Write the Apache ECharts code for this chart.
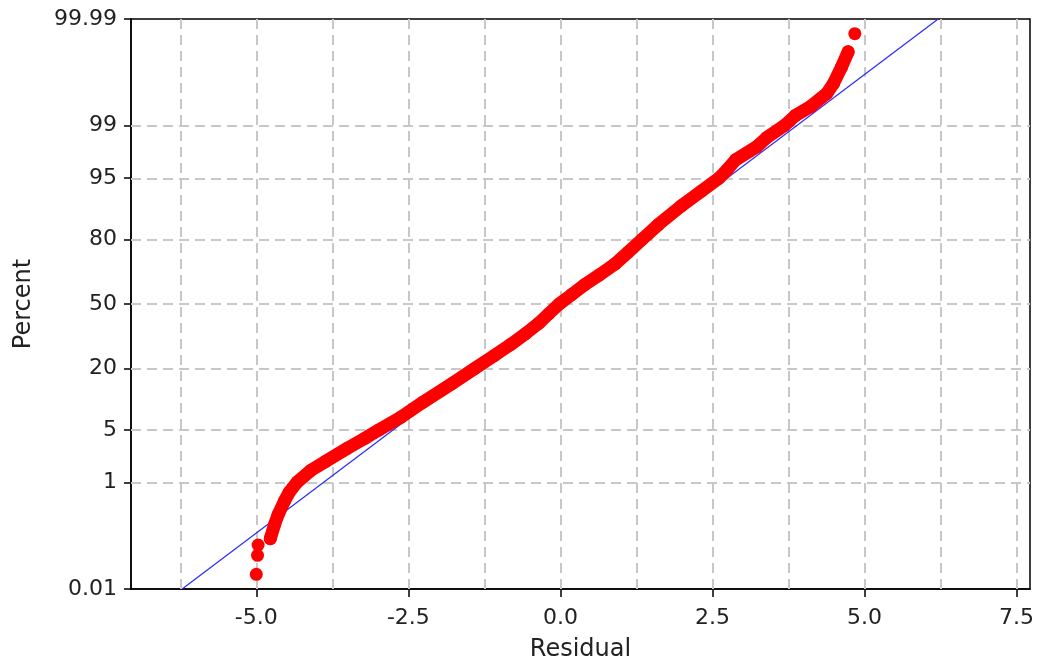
<!DOCTYPE html>
<html>
<head>
<meta charset="utf-8">
<title>Normal probability plot of residuals</title>
<script src="https://cdn.jsdelivr.net/npm/echarts@6/dist/echarts.min.js"></script>
<style>
  html, body { margin: 0; padding: 0; background: #fff; }
  #main { width: 1039px; height: 664px; }
</style>
</head>
<body>
<div id="main"></div>
<script>
// axis ticks
var xTicks = [-5, -2.5, 0, 2.5, 5, 7.5];
var xGrid = [-6.25, -5, -3.75, -2.5, -1.25, 0, 1.25, 2.5, 3.75, 5, 6.25, 7.5];
var yTickPct = [0.01, 1, 5, 20, 50, 80, 95, 99, 99.99];
var yTickLabels = ['0.01', '1', '5', '20', '50', '80', '95', '99', '99.99'];
var yGridPct = [1, 5, 20, 50, 80, 95, 99];

// residuals (percent -> residual)
var lowTailPct = [0.021, 0.052, 0.083];
var lowTailRes = [-5.00, -4.98, -4.97];
var curvePct = [0.11, 0.2, 0.3, 0.5, 0.7, 1, 1.5, 2, 3, 4, 5, 7, 10, 15, 20, 25, 30, 35, 40, 45,
  50, 55, 60, 65, 70, 75, 80, 85, 90, 93, 95, 96, 97, 98, 98.5, 99, 99.3, 99.5, 99.7, 99.8, 99.9, 99.95];
var curveRes = [-4.77, -4.70, -4.64, -4.54, -4.46, -4.33, -4.10, -3.86, -3.50, -3.21, -2.99, -2.62, -2.26, -1.78, -1.41, -1.09, -0.81, -0.57, -0.36, -0.19,
  -0.02, 0.19, 0.40, 0.65, 0.90, 1.11, 1.34, 1.61, 1.99, 2.32, 2.61, 2.74, 2.88, 3.23, 3.39, 3.68, 3.86, 4.11, 4.38, 4.49, 4.62, 4.73];
var highTailPct = [99.979];
var highTailRes = [4.84];

// fitted normal line
var fitPct = [0.01, 99.99];
var fitRes = [-6.22, 6.21];

// inverse normal cdf (Acklam), percent -> probability scale
function probit(pct) {
  var p = pct / 100;
  var a = [-3.969683028665376e+01, 2.209460984245205e+02, -2.759285104469687e+02, 1.383577518672690e+02, -3.066479806614716e+01, 2.506628277459239e+00];
  var b = [-5.447609879822406e+01, 1.615858368580409e+02, -1.556989798598866e+02, 6.680131188771972e+01, -1.328068155288572e+01];
  var c = [-7.784894002430293e-03, -3.223964580411365e-01, -2.400758277161838e+00, -2.549732539343734e+00, 4.374664141464968e+00, 2.938163982698783e+00];
  var d = [7.784695709041462e-03, 3.224671290700398e-01, 2.445134137142996e+00, 3.754408661907416e+00];
  var plow = 0.02425, q, r;
  if (p < plow) {
    q = Math.sqrt(-2 * Math.log(p));
    return (((((c[0] * q + c[1]) * q + c[2]) * q + c[3]) * q + c[4]) * q + c[5]) / ((((d[0] * q + d[1]) * q + d[2]) * q + d[3]) * q + 1);
  }
  if (p > 1 - plow) {
    q = Math.sqrt(-2 * Math.log(1 - p));
    return -(((((c[0] * q + c[1]) * q + c[2]) * q + c[3]) * q + c[4]) * q + c[5]) / ((((d[0] * q + d[1]) * q + d[2]) * q + d[3]) * q + 1);
  }
  q = p - 0.5;
  r = q * q;
  return (((((a[0] * r + a[1]) * r + a[2]) * r + a[3]) * r + a[4]) * r + a[5]) * q / (((((b[0] * r + b[1]) * r + b[2]) * r + b[3]) * r + b[4]) * r + 1);
}

function pairs(res, pct) {
  return res.map(function (v, i) { return [v, probit(pct[i])]; });
}

var yTickZ = yTickPct.map(probit);
var font = 'DejaVu Sans';
var textColor = '#222';

var myChart = echarts.init(document.getElementById('main'));

var gridLines = xGrid.map(function (v) { return { xAxis: v }; })
  .concat(yGridPct.map(function (p) { return { yAxis: probit(p) }; }));

var option = {
  backgroundColor: '#fff',
  animation: false,
  grid: {
    left: 131, right: 9, top: 19, bottom: 75,
    show: true, borderColor: '#000', borderWidth: 1.5,
    outerBoundsMode: 'none'
  },
  xAxis: {
    type: 'value',
    min: -7.06,
    max: 7.72,
    name: 'Residual',
    nameLocation: 'middle',
    nameGap: 49,
    nameTextStyle: { fontFamily: font, fontSize: 24, color: textColor },
    axisLine: { onZero: false, lineStyle: { color: '#000', width: 1.5 } },
    axisTick: { customValues: xTicks, length: 8, lineStyle: { color: '#000', width: 1.5 } },
    axisLabel: {
      customValues: xTicks,
      margin: 18,
      fontFamily: font, fontSize: 22, color: textColor,
      formatter: function (v) { return v.toFixed(1); }
    },
    splitLine: { show: false }
  },
  yAxis: {
    type: 'value',
    min: probit(0.01),
    max: probit(99.99),
    name: 'Percent',
    nameLocation: 'middle',
    nameGap: 95,
    nameTextStyle: { fontFamily: font, fontSize: 24, color: textColor },
    axisLine: { onZero: false, lineStyle: { color: '#000', width: 1.5 } },
    axisTick: { customValues: yTickZ, length: 7, lineStyle: { color: '#000', width: 1.5 } },
    axisLabel: {
      customValues: yTickZ,
      margin: 14,
      fontFamily: font, fontSize: 22, color: textColor,
      formatter: function (v) {
        for (var i = 0; i < yTickZ.length; i++) {
          if (Math.abs(yTickZ[i] - v) < 1e-3) return yTickLabels[i];
        }
        return '';
      }
    },
    splitLine: { show: false }
  },
  series: [
    {
      // dashed grid, kept under the data
      type: 'scatter',
      data: [],
      silent: true,
      z: 1,
      markLine: {
        z: 1,
        silent: true,
        symbol: ['none', 'none'],
        label: { show: false },
        animation: false,
        lineStyle: { color: '#c8c8c8', width: 2, type: [10, 6] },
        emphasis: { disabled: true },
        data: gridLines
      }
    },
    {
      name: 'fit',
      type: 'line',
      data: pairs(fitRes, fitPct),
      symbol: 'none',
      z: 6,
      lineStyle: { color: '#2a2aff', width: 1.2 }
    },
    {
      name: 'residuals',
      type: 'line',
      data: pairs(curveRes, curvePct),
      symbol: 'circle',
      symbolSize: 13,
      showSymbol: true,
      z: 7,
      itemStyle: { color: '#ff0000', opacity: 1 },
      lineStyle: { color: '#ff0000', width: 13, cap: 'round', join: 'round' }
    },
    {
      name: 'tails',
      type: 'scatter',
      data: pairs(lowTailRes, lowTailPct).concat(pairs(highTailRes, highTailPct)),
      symbol: 'circle',
      symbolSize: 13,
      z: 7,
      itemStyle: { color: '#ff0000', opacity: 1 }
    }
  ]
};

myChart.setOption(option);
</script>
</body>
</html>
